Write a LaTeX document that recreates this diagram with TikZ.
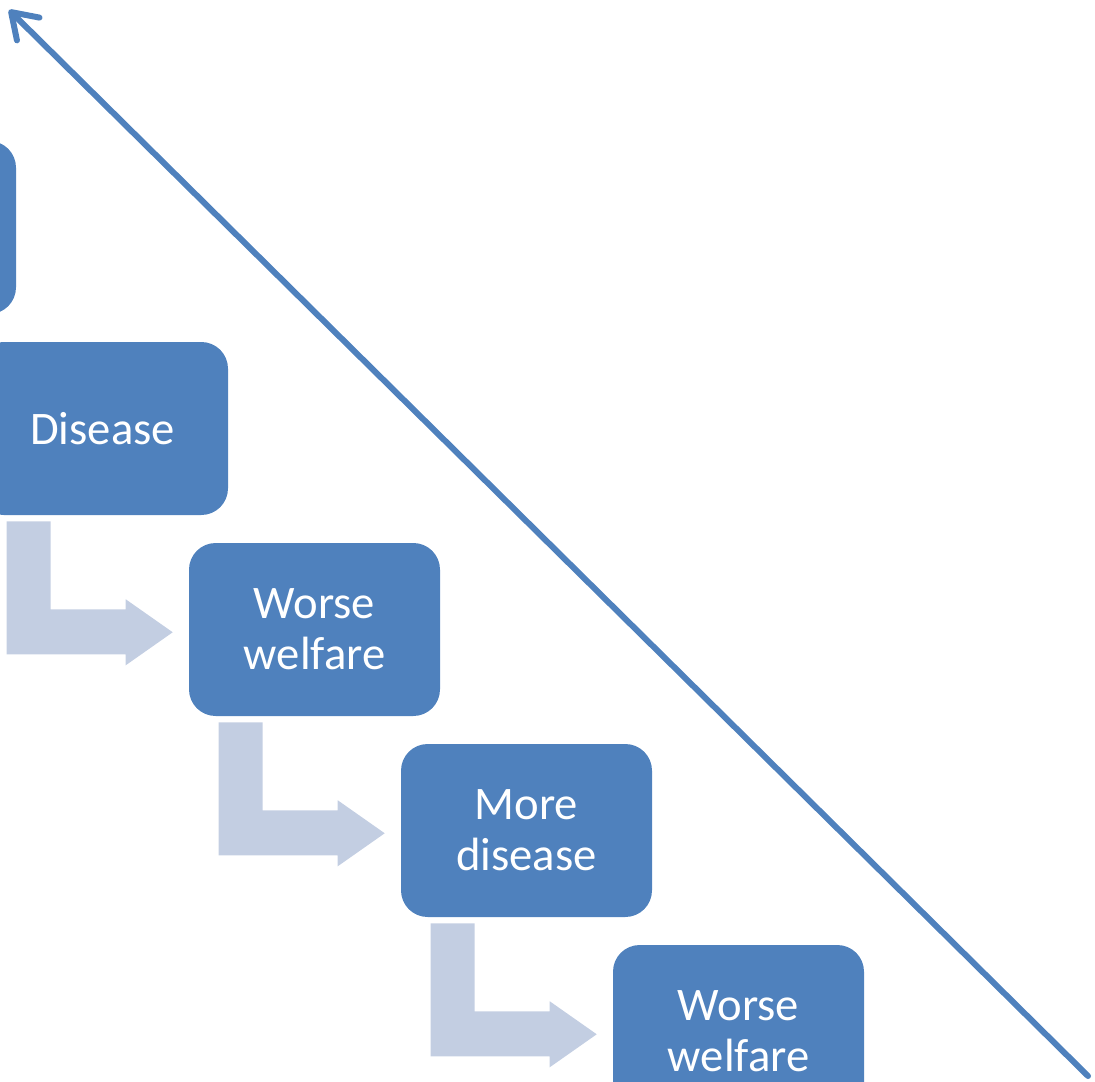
\documentclass[tikz,border=0pt]{standalone}
\usepackage{fontspec}
\setmainfont{Carlito}
\usetikzlibrary{arrows.meta,calc}
\definecolor{boxblue}{HTML}{4F81BD}
\definecolor{paleblue}{HTML}{C3CEE2}
\tikzset{
  stagebox/.style={fill=boxblue, rounded corners=20pt, minimum width=188.25pt, minimum height=129.75pt,
    inner sep=0pt, text=white, align=center, font=\fontsize{35}{38}\selectfont},
  bentarrow/.style={fill=paleblue},
  trend/.style={draw=boxblue, line width=4.5pt, line cap=round,
    -{Straight Barb[length=18pt, width=24pt, line cap=round, line join=round]}}
}
\newcommand{\bentarrowfrom}[1]{%
  \fill[bentarrow] ($(#1.south west)+(30,6)$) -- ++(44,0) -- ++(0,88) -- ++(75,0) -- ++(0,-10)
    -- ++(47,33) -- ++(-47,33) -- ++(0,-11) -- ++(-119,0) -- cycle;}
\begin{document}
\begin{tikzpicture}[x=0.75pt, y=-0.75pt]
\useasboundingbox (0,0) rectangle (1095,1081);

\node[stagebox] (top) at (-109.5, 227.5) {};
\node[stagebox] (disease) at (102.5, 428.5) {Disease};
\node[stagebox] (welfare) at (314.5, 629.5) {Worse\\welfare};
\node[stagebox] (moredisease) at (526.5, 830.5) {More\\disease};
\node[stagebox] (welfaretwo) at (738.5, 1031.5) {Worse\\welfare};

\bentarrowfrom{disease}
\bentarrowfrom{welfare}
\bentarrowfrom{moredisease}

\coordinate (low) at (1088, 1076);
\coordinate (high) at (9, 10);
\draw[trend] (low) -- (high);

\end{tikzpicture}
\end{document}
